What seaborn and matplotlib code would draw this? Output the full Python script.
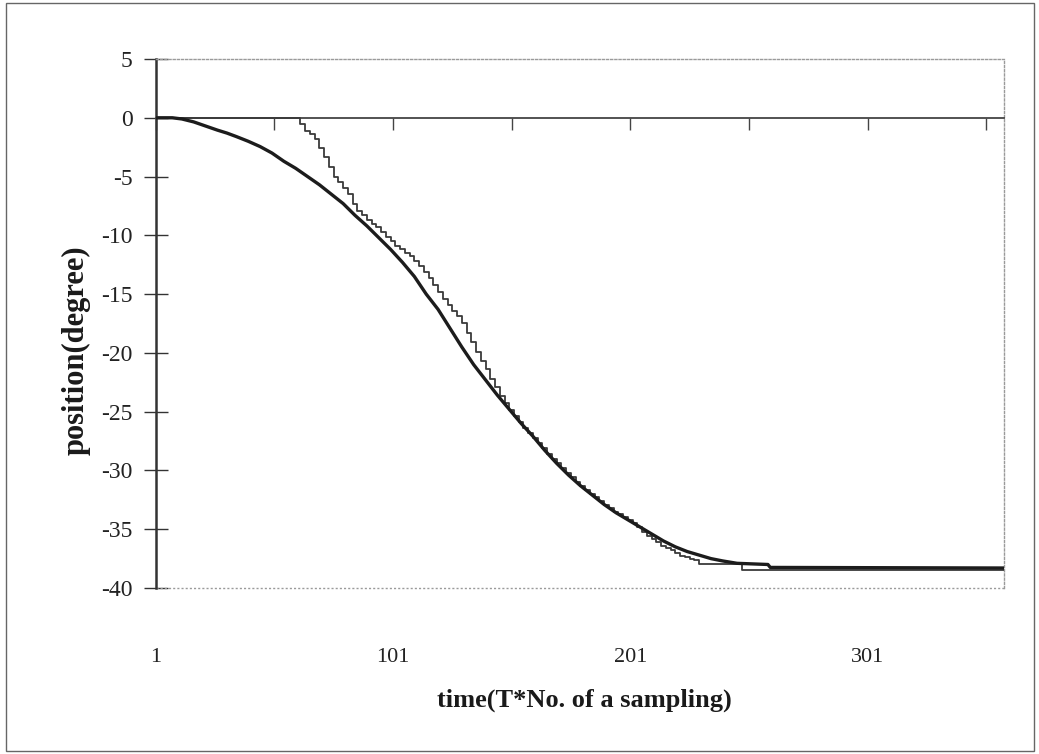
import matplotlib
matplotlib.use("Agg")
import matplotlib.pyplot as plt
import seaborn as sns
import pandas as pd
from matplotlib.patches import Rectangle

# Reference trajectory (thick) and measured position (thin), in degrees
thick_t = [1, 8, 12, 17, 22, 27, 31, 35, 40, 45, 50, 55, 60, 65, 70, 75, 80, 85,
           90, 95, 100, 105, 110, 115, 120, 125, 130, 135, 140, 145, 150, 155,
           160, 165, 170, 175, 180, 185, 190, 195, 200, 205, 210, 215, 220, 225,
           230, 235, 240, 246, 259, 260, 359]
thick_pos = [0.0, 0.0, -0.1, -0.35, -0.7, -1.05, -1.3, -1.6, -2.0, -2.45, -3.0,
             -3.7, -4.3, -5.0, -5.7, -6.5, -7.3, -8.3, -9.2, -10.2, -11.2, -12.3,
             -13.5, -15.0, -16.3, -17.9, -19.5, -21.0, -22.3, -23.6, -24.8, -26.0,
             -27.1, -28.3, -29.4, -30.4, -31.3, -32.1, -32.9, -33.6, -34.2, -34.8,
             -35.4, -36.0, -36.5, -36.9, -37.2, -37.5, -37.7, -37.9, -38.0, -38.25,
             -38.3]

thin_t = [1, 60, 62, 64, 66, 68, 70, 72, 74, 76, 78, 80, 82, 84, 86, 88, 90, 92,
          94, 96, 98, 100, 102, 104, 106, 108, 110, 112, 114, 116, 118, 120, 122,
          124, 126, 128, 130, 132, 134, 136, 138, 140, 142, 144, 146, 148, 150,
          152, 154, 156, 158, 160, 162, 164, 166, 168, 170, 172, 174, 176, 178,
          180, 182, 184, 186, 188, 190, 192, 194, 196, 198, 200, 202, 204, 206,
          208, 210, 212, 214, 216, 218, 220, 222, 224, 226, 228, 230, 248, 359]
thin_pos = [0.0, 0.0, -0.5, -1.1, -1.4, -1.8, -2.6, -3.3, -4.2, -5.0, -5.5, -6.0,
            -6.5, -7.3, -7.9, -8.3, -8.7, -9.0, -9.3, -9.7, -10.1, -10.5, -10.9,
            -11.2, -11.5, -11.8, -12.2, -12.6, -13.1, -13.6, -14.2, -14.8, -15.4,
            -15.9, -16.4, -16.9, -17.5, -18.3, -19.1, -19.9, -20.7, -21.4, -22.2,
            -22.9, -23.7, -24.3, -24.9, -25.4, -25.9, -26.4, -26.8, -27.2, -27.7,
            -28.1, -28.6, -29.0, -29.4, -29.8, -30.2, -30.6, -31.0, -31.3, -31.7,
            -32.0, -32.3, -32.6, -32.9, -33.2, -33.5, -33.7, -34.0, -34.2, -34.5,
            -34.8, -35.2, -35.6, -35.8, -36.1, -36.4, -36.6, -36.8, -37.0, -37.3,
            -37.4, -37.5, -37.6, -38.0, -38.5, -38.6]

y_ticks = [5, 0, -5, -10, -15, -20, -25, -30, -35, -40]
x_minor_ticks = [1, 51, 101, 151, 201, 251, 301, 351]
x_labels = [1, 101, 201, 301]

sns.set_theme(style="white")
plt.rcParams["font.family"] = ["Liberation Serif", "DejaVu Serif"]
plt.rcParams["axes.unicode_minus"] = False

fig = plt.figure(figsize=(10.39, 7.54), dpi=100)
ax = fig.add_axes([0.14986, 0.22016, 0.81646, 0.70159])

thick_df = pd.DataFrame({"t": thick_t, "pos": thick_pos})
thin_df = pd.DataFrame({"t": thin_t, "pos": thin_pos})

sns.lineplot(data=thin_df, x="t", y="pos", ax=ax, color="#3a3a3a", lw=1.3,
             drawstyle="steps-post", estimator=None, zorder=3)
sns.lineplot(data=thick_df, x="t", y="pos", ax=ax, color="#1c1c1c", lw=2.4,
             estimator=None, zorder=4)

ax.set_xlim(1, 358.5)
ax.set_ylim(-40, 5)

# y axis: crossing tick marks
ax.set_yticks(y_ticks)
ax.set_yticklabels([str(v) for v in y_ticks])
ax.tick_params(axis="y", direction="inout", length=17.5, width=1.0,
               color="#333333", pad=8, labelsize=17, labelcolor="#222222", left=True)

# x axis line through zero, ticks hanging below it
ax.spines["bottom"].set_position(("data", 0))
ax.spines["bottom"].set_color("#444444")
ax.spines["bottom"].set_linewidth(1.3)
ax.set_xticks(x_minor_ticks)
ax.set_xticklabels([])
ax.tick_params(axis="x", direction="out", length=8.5, width=1.0,
               color="#444444", bottom=True)

ax.spines["left"].set_color("#333333")
ax.spines["left"].set_linewidth(1.8)
for side in ("top", "right"):
    ax.spines[side].set_color("#9a9a9a")
    ax.spines[side].set_linewidth(1.0)
    ax.spines[side].set_linestyle((0, (1.5, 1.5)))
ax.axhline(-40, color="#9a9a9a", lw=1.0, ls=(0, (1.5, 1.5)), zorder=1, clip_on=False)

# category labels sit below the plot area
sec = ax.secondary_xaxis(-0.1125)
sec.set_xticks(x_labels)
sec.set_xticklabels([str(v) for v in x_labels])
sec.tick_params(axis="x", length=0, pad=0, labelsize=16, labelcolor="#222222")
sec.spines["bottom"].set_visible(False)

ax.set_xlabel("time(T*No. of a sampling)", fontsize=19, fontweight="bold", color="#1a1a1a")
ax.xaxis.set_label_coords(0.505, -0.2117)
ax.xaxis.label.set_va("center")
ax.set_ylabel("position(degree)", fontsize=22, fontweight="bold", color="#1a1a1a")
ax.yaxis.set_label_coords(-0.094, 0.45)
ax.yaxis.label.set_va("center")

# chart border
fig.add_artist(Rectangle((6 / 1039, 3 / 754), 1028 / 1039, 748 / 754,
                         transform=fig.transFigure, fill=False,
                         ec="#666666", lw=1.0))

fig.savefig("out.png", dpi=100, facecolor="white")
